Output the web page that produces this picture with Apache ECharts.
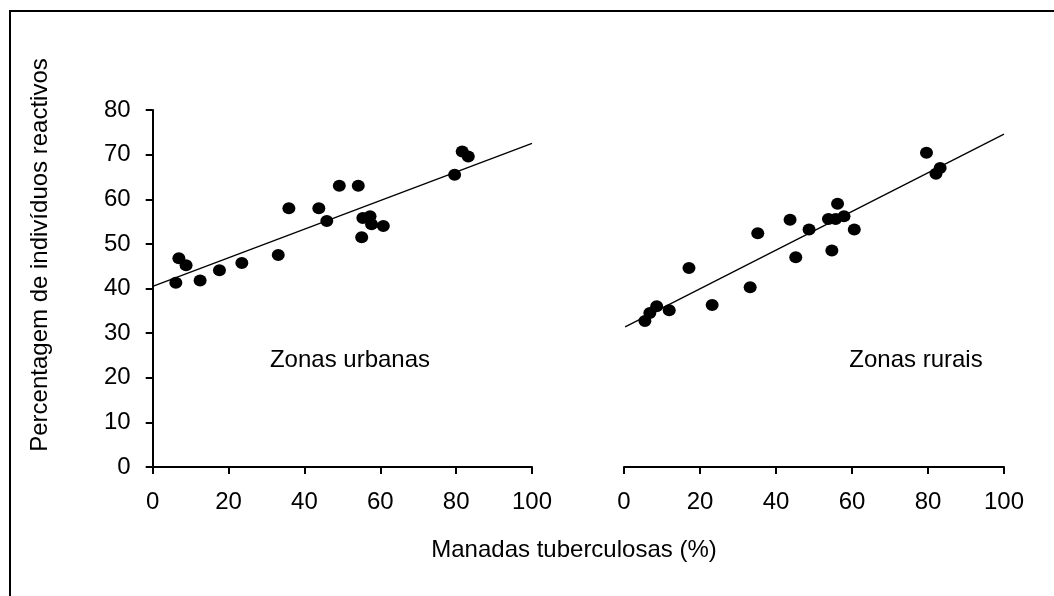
<!DOCTYPE html>
<html>
<head>
<meta charset="utf-8">
<script src="https://cdn.jsdelivr.net/npm/echarts@6/dist/echarts.min.js"></script>
<style>
  html, body { margin: 0; padding: 0; background: #fff; }
  #chart { width: 1054px; height: 596px; }
</style>
</head>
<body>
<div id="chart"></div>
<script>
// Herds with tuberculosis (%) vs. percentage of reactive individuals
const urbanX = [6.1, 6.9, 8.8, 12.5, 17.6, 23.5, 33.1, 35.9, 43.8, 45.9, 49.2, 54.2, 55.1, 55.4, 57.3, 57.7, 60.8, 79.6, 81.6, 83.2];
const urbanY = [41.3, 46.8, 45.2, 41.8, 44.1, 45.7, 47.5, 58.0, 58.0, 55.1, 63.0, 63.0, 51.5, 55.8, 56.2, 54.4, 54.0, 65.5, 70.7, 69.6];

const ruralX = [5.5, 6.8, 8.6, 11.9, 17.1, 23.2, 33.2, 35.2, 43.7, 45.2, 48.7, 53.8, 54.7, 55.7, 56.2, 57.9, 60.6, 79.6, 82.1, 83.2];
const ruralY = [32.7, 34.5, 36.0, 35.1, 44.6, 36.3, 40.3, 52.4, 55.4, 47.0, 53.2, 55.6, 48.5, 55.6, 59.0, 56.2, 53.2, 70.4, 65.7, 67.0];

// Fitted regression lines (endpoints at x = 0 and x = 100)
const urbanFitX = [0, 100];
const urbanFitY = [40.5, 72.5];
const ruralFitX = [0.3, 100];
const ruralFitY = [31.4, 74.6];

const xTicks = [0, 20, 40, 60, 80, 100];
const yTicks = [0, 10, 20, 30, 40, 50, 60, 70, 80];

const yTitle = 'Percentagem de indivíduos reactivos';
const xTitle = 'Manadas tuberculosas (%)';
const urbanLabel = 'Zonas urbanas';
const ruralLabel = 'Zonas rurais';

const FONT = '"Liberation Sans", Arial, Helvetica, sans-serif';

const zip = (xs, ys) => xs.map((x, i) => [x, ys[i]]);

const chart = echarts.init(document.getElementById('chart'), null, { renderer: 'canvas' });

const axisLine = { show: true, lineStyle: { color: '#000', width: 2 } };
const axisTick = { show: true, inside: false, length: 7, lineStyle: { color: '#000', width: 2 } };
const tickLabel = { color: '#000', fontSize: 24, fontFamily: FONT };

function xAxisFor(gridIndex) {
  return {
    type: 'value', gridIndex,
    min: xTicks[0], max: xTicks[xTicks.length - 1], interval: xTicks[1] - xTicks[0],
    axisLine, axisTick,
    axisLabel: Object.assign({ margin: 23 }, tickLabel),
    splitLine: { show: false }
  };
}

const dotStyle = { color: '#000', opacity: 1 };

const option = {
  backgroundColor: '#fff',
  animation: false,
  grid: [
    { left: 152.7, top: 110, width: 379.3, height: 357 },
    { left: 624, top: 110, width: 380, height: 357 }
  ],
  xAxis: [xAxisFor(0), xAxisFor(1)],
  yAxis: [
    {
      type: 'value', gridIndex: 0,
      min: yTicks[0], max: yTicks[yTicks.length - 1], interval: yTicks[1] - yTicks[0],
      axisLine, axisTick,
      axisLabel: Object.assign({ margin: 22 }, tickLabel),
      splitLine: { show: false }
    },
    {
      type: 'value', gridIndex: 1,
      min: yTicks[0], max: yTicks[yTicks.length - 1], interval: yTicks[1] - yTicks[0],
      show: false, splitLine: { show: false }
    }
  ],
  series: [
    {
      type: 'scatter', xAxisIndex: 0, yAxisIndex: 0,
      data: zip(urbanX, urbanY),
      symbol: 'circle', symbolSize: [13, 12],
      itemStyle: dotStyle, z: 3
    },
    {
      type: 'line', xAxisIndex: 0, yAxisIndex: 0,
      data: zip(urbanFitX, urbanFitY),
      showSymbol: false, lineStyle: { color: '#000', width: 1.3 }, z: 2
    },
    {
      type: 'scatter', xAxisIndex: 1, yAxisIndex: 1,
      data: zip(ruralX, ruralY),
      symbol: 'circle', symbolSize: [13, 12],
      itemStyle: dotStyle, z: 3
    },
    {
      type: 'line', xAxisIndex: 1, yAxisIndex: 1,
      data: zip(ruralFitX, ruralFitY),
      showSymbol: false, lineStyle: { color: '#000', width: 1.3 }, z: 2
    }
  ],
  graphic: [
    {
      type: 'rect', silent: true,
      shape: { x: 10, y: 11, width: 1200, height: 800 },
      style: { fill: 'none', stroke: '#000', lineWidth: 2 }
    },
    {
      type: 'text', x: 40, y: 255, rotation: Math.PI / 2,
      style: { text: yTitle, fontSize: 24, fontFamily: FONT, fill: '#000', align: 'center', verticalAlign: 'middle' }
    },
    {
      type: 'text', x: 574, y: 550,
      style: { text: xTitle, fontSize: 24, fontFamily: FONT, fill: '#000', align: 'center', verticalAlign: 'middle' }
    },
    {
      type: 'text', x: 350, y: 360,
      style: { text: urbanLabel, fontSize: 24, fontFamily: FONT, fill: '#000', align: 'center', verticalAlign: 'middle' }
    },
    {
      type: 'text', x: 916, y: 360,
      style: { text: ruralLabel, fontSize: 24, fontFamily: FONT, fill: '#000', align: 'center', verticalAlign: 'middle' }
    }
  ]
};

chart.setOption(option);
</script>
</body>
</html>
